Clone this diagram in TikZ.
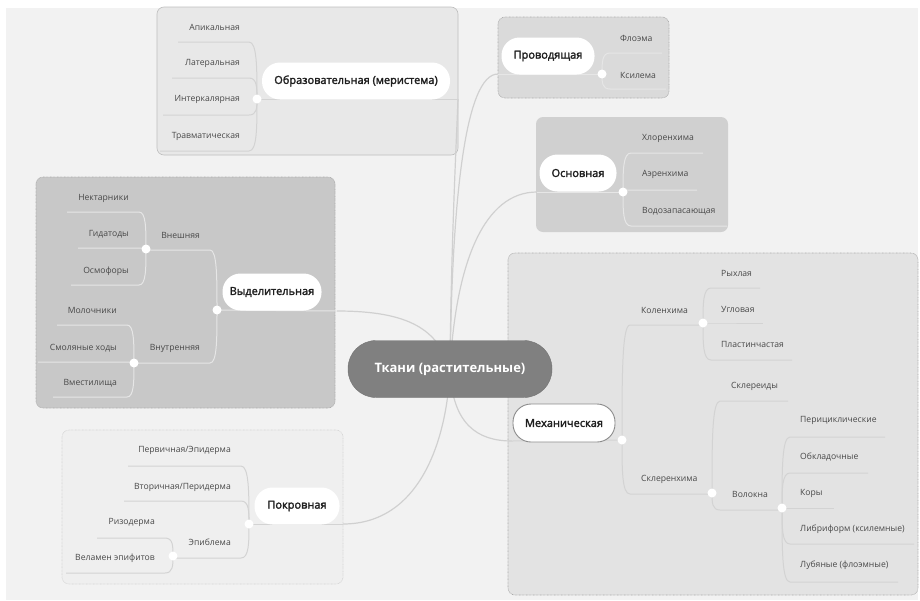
\documentclass[tikz,border=0pt]{standalone}
\usepackage{fontspec}
\setmainfont{Open Sans}
\newfontfamily\topicfont[FakeBold=2.2]{Open Sans}
\definecolor{bgc}{HTML}{F2F2F2}
\definecolor{merc}{HTML}{E8E8E8}
\definecolor{provc}{HTML}{DADADA}
\definecolor{osnc}{HTML}{D0D0D0}
\definecolor{vydc}{HTML}{C8C8C8}
\definecolor{pokc}{HTML}{EFEFEF}
\definecolor{mechc}{HTML}{E3E3E3}
\definecolor{ctrfill}{HTML}{808080}
\definecolor{conncol}{HTML}{D0D0D0}
\definecolor{lightbr}{HTML}{D3D3D3}
\definecolor{darkbr}{HTML}{E6E6E6}
\definecolor{lbltext}{HTML}{484848}
\definecolor{dotcol}{HTML}{ABABAB}
\newcommand\brl[7]{\draw[#1] (#2,#4) -- (#3,#4) .. controls ({#6},{#4}) and ({#6},{#4+0.45*(#7-#4)}) .. (#5);}
\newcommand\brr[7]{\draw[#1] (#2) .. controls ({#3},{#4+0.55*(#7-#4)}) and ({#3},{#7}) .. (#5,#7) -- (#6,#7);}
\tikzset{
  conn/.style={draw=conncol, line width=1.2pt},
  brlt/.style={draw=lightbr, line width=1pt},
  brdk/.style={draw=darkbr, line width=1pt},
  dotbox/.style={draw=dotcol, line width=0.6pt, dash pattern=on 0.7pt off 0.7pt, rounded corners=7pt},
  lbl/.style={inner sep=0pt, text=lbltext, font=\fontsize{8.6}{10}\selectfont},
  topic/.style={fill=white, rounded corners=18pt, minimum height=37pt, inner sep=0pt, text=black!88, font=\fontsize{11}{13}\topicfont},
  knob/.style={circle, fill=white, minimum size=9pt, inner sep=0pt},
  center topic/.style={fill=ctrfill, draw=ctrfill!90!black, rounded corners=28pt, minimum height=57pt, minimum width=204pt, inner sep=0pt, text=white, font=\fontsize{13}{15}\selectfont\bfseries}
}
\begin{document}
\begin{tikzpicture}[x=1pt,y=-1pt]
\useasboundingbox (0,0) rectangle (920,600);
\fill[white] (0,0) rectangle (920,600);
\fill[bgc] (6,8) rectangle (918,600);
% group boxes
\filldraw[fill=merc, draw=lightbr!90!black, line width=0.6pt, rounded corners=7pt] (157,7) rectangle (458,155);
\filldraw[fill=provc, dotbox] (498,17) rectangle (669,98);
\fill[osnc, rounded corners=7pt] (536,117) rectangle (728,232);
\filldraw[fill=vydc, dotbox] (36,177) rectangle (335,408);
\filldraw[fill=pokc, dotbox, draw=lightbr] (62,430) rectangle (343,584);
\filldraw[fill=mechc, dotbox, draw=lightbr!80!black] (508,253) rectangle (918,595);
% coordinates
\coordinate (ctrc) at (450,369);
\coordinate (kMer) at (257,99);
\coordinate (merEnd) at (458,99);
\coordinate (kProv) at (602,74);
\coordinate (provStart) at (498,74);
\coordinate (kOsn) at (623,192);
\coordinate (osnStart) at (537,192);
\coordinate (kVyd) at (217,310);
\coordinate (vydEnd) at (337,311);
\coordinate (kVne) at (146,249);
\coordinate (kVnu) at (134,363);
\coordinate (kPok) at (249,524);
\coordinate (pokEnd) at (343,524);
\coordinate (kEpi) at (173,556);
\coordinate (kMech) at (622,440);
\coordinate (mechStart) at (512,441);
\coordinate (kKol) at (703,323);
\coordinate (kSkl) at (712,493);
\coordinate (kVol) at (782,508);
% main connectors
\draw[conn] (ctrc) .. controls (451,250) and (456,150) .. (merEnd);
\draw[conn] (ctrc) .. controls (452,200) and (465,74) .. (provStart);
\draw[conn] (ctrc) .. controls (456,260) and (485,192) .. (osnStart);
\draw[conn] (vydEnd) .. controls (410,311) and (438,330) .. (ctrc);
\draw[conn] (pokEnd) .. controls (420,524) and (447,440) .. (ctrc);
\draw[conn] (ctrc) .. controls (452,425) and (478,441) .. (mechStart);
% topic base lines
\draw[brlt] (kMer) -- (merEnd);
\draw[brdk] (provStart) -- (kProv);
\draw[brdk] (osnStart) -- (kOsn);
\draw[brdk] (kVyd) -- (vydEnd);
\draw[brlt] (kPok) -- (pokEnd);
\draw[brlt] (mechStart) -- (kMech);
% meristem branches
\brl{brlt}{178}{249}{42}{kMer}{257}{99}
\brl{brlt}{172}{249}{78}{kMer}{257}{99}
\brl{brlt}{163}{249}{115}{kMer}{257}{99}
\brl{brlt}{160}{249}{151}{kMer}{257}{99}
% provodyashchaya
\brr{brdk}{kProv}{602}{74}{610}{662}{53}
\brr{brdk}{kProv}{602}{74}{610}{666}{89}
% osnovnaya
\brr{brdk}{kOsn}{623}{192}{631}{703}{153}
\brr{brdk}{kOsn}{623}{192}{631}{697}{190}
\brr{brdk}{kOsn}{623}{192}{631}{727}{226}
% vydelitelnaya
\brl{brdk}{146}{210}{250}{kVyd}{217}{310}
\brl{brdk}{134}{210}{363}{kVyd}{217}{310}
\brl{brdk}{67}{139}{212}{kVne}{146}{249}
\brl{brdk}{78}{139}{248}{kVne}{146}{249}
\brl{brdk}{71}{139}{285}{kVne}{146}{249}
\brl{brdk}{57}{127}{325}{kVnu}{134}{363}
\brl{brdk}{38}{127}{362}{kVnu}{134}{363}
\brl{brdk}{53}{127}{397}{kVnu}{134}{363}
% pokrovnaya
\brl{brlt}{128}{241}{466}{kPok}{249}{524}
\brl{brlt}{124}{241}{501}{kPok}{249}{524}
\brl{brlt}{173}{241}{558}{kPok}{249}{524}
\brl{brlt}{97}{165}{538}{kEpi}{173}{556}
\brl{brlt}{66}{165}{573}{kEpi}{173}{556}
% mechanical
\brr{brlt}{kMech}{622}{440}{630}{703}{325}
\brr{brlt}{kMech}{622}{440}{630}{712}{494}
\brr{brlt}{kKol}{703}{323}{711}{760}{288}
\brr{brlt}{kKol}{703}{323}{711}{763}{323}
\brr{brlt}{kKol}{703}{323}{711}{792}{360}
\brr{brlt}{kSkl}{712}{493}{720}{788}{401}
\brr{brlt}{kSkl}{712}{493}{720}{782}{510}
\brr{brlt}{kVol}{782}{508}{790}{885}{437}
\brr{brlt}{kVol}{782}{508}{790}{868}{473}
\brr{brlt}{kVol}{782}{508}{790}{834}{508}
\brr{brlt}{kVol}{782}{508}{790}{914}{544}
\brr{brlt}{kVol}{782}{508}{790}{898}{582}
% knobs
\foreach \k in {kMer,kProv,kOsn,kVyd,kVne,kVnu,kPok,kEpi,kMech,kKol,kSkl,kVol}
  \node[knob] (\k n) at (\k) {};
% topics
\node[topic, minimum width=188pt] (mer) at (356,81) {Образовательная (меристема)};
\node[topic, minimum width=93pt] (prov) at (548,56) {Проводящая};
\node[topic, minimum width=77pt] (osn) at (578,173) {Основная};
\node[topic, minimum width=99pt] (vyd) at (272,292) {Выделительная};
\node[topic, minimum width=85pt] (pok) at (297,506) {Покровная};
\node[topic, minimum width=102pt, minimum height=38pt, draw=black!45, line width=0.9pt] (mechp) at (564,423) {Механическая};
\node[center topic] (ctr) at (ctrc) {Ткани (растительные)};
% labels
\node[lbl, anchor=east] (l1) at (240,27) {Апикальная};
\node[lbl, anchor=east] (l2) at (240,63) {Латеральная};
\node[lbl, anchor=east] (l3) at (240,99) {Интеркалярная};
\node[lbl, anchor=east] (l4) at (240,136) {Травматическая};
\node[lbl, anchor=west] (l5) at (620,38) {Флоэма};
\node[lbl, anchor=west] (l6) at (620,75) {Ксилема};
\node[lbl, anchor=west] (l7) at (642,138) {Хлоренхима};
\node[lbl, anchor=west] (l8) at (642,174) {Аэренхима};
\node[lbl, anchor=west] (l9) at (642,211) {Водозапасающая};
\node[lbl, anchor=east] (l10) at (200,235) {Внешняя};
\node[lbl, anchor=east] (l11) at (200,348) {Внутренняя};
\node[lbl, anchor=east] (l12) at (129,198) {Нектарники};
\node[lbl, anchor=east] (l13) at (129,234) {Гидатоды};
\node[lbl, anchor=east] (l14) at (129,271) {Осмофоры};
\node[lbl, anchor=east] (l15) at (117,310) {Молочники};
\node[lbl, anchor=east] (l16) at (117,348) {Смоляные ходы};
\node[lbl, anchor=east] (l17) at (117,383) {Вместилища};
\node[lbl, anchor=east] (l18) at (231,450) {Первичная/Эпидерма};
\node[lbl, anchor=east] (l19) at (231,487) {Вторичная/Перидерма};
\node[lbl, anchor=east] (l20) at (231,542) {Эпиблема};
\node[lbl, anchor=east] (l21) at (155,522) {Ризодерма};
\node[lbl, anchor=east] (l22) at (155,558) {Веламен эпифитов};
\node[lbl, anchor=west] (l23) at (641,310) {Коленхима};
\node[lbl, anchor=west] (l24) at (641,479) {Склеренхима};
\node[lbl, anchor=west] (l25) at (721,273) {Рыхлая};
\node[lbl, anchor=west] (l26) at (721,309) {Угловая};
\node[lbl, anchor=west] (l27) at (721,344) {Пластинчастая};
\node[lbl, anchor=west] (l28) at (731,386) {Склереиды};
\node[lbl, anchor=west] (l29) at (732,494) {Волокна};
\node[lbl, anchor=west] (l30) at (800,420) {Перициклические};
\node[lbl, anchor=west] (l31) at (800,457) {Обкладочные};
\node[lbl, anchor=west] (l32) at (800,493) {Коры};
\node[lbl, anchor=west] (l33) at (800,529) {Либриформ (ксилемные)};
\node[lbl, anchor=west] (l34) at (800,565) {Лубяные (флоэмные)};
\end{tikzpicture}
\end{document}
